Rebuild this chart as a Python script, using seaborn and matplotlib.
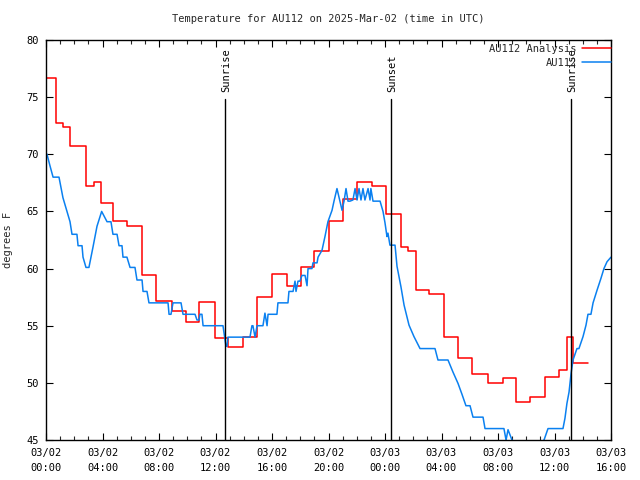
import matplotlib
matplotlib.use("Agg")
import matplotlib.pyplot as plt
import seaborn as sns
import pandas as pd
from matplotlib.ticker import MultipleLocator

# ---- data (hours since 03/02 00:00 UTC, degrees F) ----
analysis_hours = [0.0, 0.7, 1.18, 1.7, 2.83, 3.4, 3.9, 4.74, 5.73, 6.8, 7.8, 8.9, 9.9,
                  10.83, 11.96, 12.9, 13.95, 14.94, 16.0, 17.06, 18.05, 18.97, 20.04,
                  21.03, 22.0, 23.08, 24.07, 25.13, 25.6, 26.2, 27.1, 28.2, 29.2, 30.16,
                  31.3, 32.35, 33.3, 34.3, 35.3, 36.3, 36.9, 37.3, 38.37]
analysis_temp = [76.7, 72.7, 72.4, 70.7, 67.2, 67.55, 65.7, 64.2, 63.7, 59.4, 57.2, 56.3, 55.3,
                 57.05, 53.9, 53.1, 54.0, 57.5, 59.5, 58.45, 60.1, 61.5, 64.2,
                 66.1, 67.55, 67.25, 64.8, 61.9, 61.5, 58.1, 57.8, 54.0, 52.15, 50.8,
                 49.95, 50.4, 48.3, 48.75, 50.5, 51.1, 54.0, 51.7, 51.7]

obs_hours = [0.0, 0.07, 0.28, 0.5, 0.92, 1.2, 1.49, 1.7, 1.84, 2.19, 2.27, 2.55, 2.62, 2.83,
             3.04, 3.33, 3.61, 3.94, 4.32, 4.6, 4.74, 5.03, 5.17, 5.38, 5.45, 5.73, 5.95,
             6.3, 6.44, 6.8, 6.87, 7.15, 7.29, 8.64, 8.71, 8.85, 8.99, 9.56, 9.7, 10.55,
             10.69, 10.83, 10.9, 11.04, 11.12, 12.53, 12.74, 12.81, 12.88, 14.44, 14.58,
             14.65, 14.8, 14.94, 15.36, 15.5, 15.65, 15.72, 16.35, 16.42, 17.13, 17.2,
             17.49, 17.63, 17.7, 17.84, 17.98, 18.12, 18.34, 18.48, 18.55, 18.83, 18.9,
             19.19, 19.26, 19.54, 19.75, 19.96, 20.25, 20.39, 20.6, 20.81, 20.96, 21.1,
             21.24, 21.38, 21.52, 21.73, 21.88, 22.02, 22.16, 22.3, 22.44, 22.58, 22.8,
             22.94, 23.0, 23.15, 23.65, 23.86, 24.0, 24.14, 24.21, 24.35, 24.71, 24.85,
             25.13, 25.35, 25.7, 26.05, 26.48, 27.54, 27.75, 28.46, 28.81, 29.17, 29.45,
             29.73, 30.02, 30.23, 30.94, 31.08, 32.42, 32.57, 32.71, 32.99, 33.13, 34.3,
             35.26, 35.54, 36.6, 36.74, 36.88, 37.03, 37.17, 37.31, 37.59, 37.73, 38.02,
             38.23, 38.37, 38.58, 38.73, 39.01, 39.29, 39.5, 39.72, 40.0]
obs_temp = [70.1, 70.0, 69.0, 68.0, 68.0, 66.2, 65.0, 64.1, 63.0, 63.0, 62.0, 62.0, 61.0, 60.1,
            60.1, 61.9, 63.7, 65.0, 64.1, 64.1, 63.0, 63.0, 62.0, 62.0, 61.0, 61.0, 60.1,
            60.1, 59.0, 59.0, 58.0, 58.0, 57.0, 57.0, 56.0, 56.0, 57.0, 57.0, 56.0, 56.0,
            55.5, 55.5, 56.0, 56.0, 55.0, 55.0, 53.2, 53.2, 54.0, 54.0, 55.0,
            55.0, 54.0, 55.0, 55.0, 56.1, 55.0, 56.0, 56.0, 57.0, 57.0, 58.0,
            58.0, 58.9, 58.0, 58.9, 58.9, 59.4, 59.4, 58.5, 60.0, 60.0, 60.5,
            60.5, 61.0, 61.6, 62.8, 64.1, 65.1, 65.9, 67.0, 65.9, 65.1, 65.9,
            67.0, 65.9, 65.9, 66.0, 67.0, 66.0, 67.0, 66.0, 67.0, 66.0, 67.0,
            66.0, 67.0, 65.9, 65.9, 65.0, 64.0, 62.8, 63.1, 62.05, 62.05, 60.2,
            58.4, 56.8, 55.05, 54.05, 53.0, 53.0, 52.0, 52.0, 50.95, 49.95, 49.0,
            48.0, 48.0, 47.0, 47.0, 46.0, 46.0, 45.0, 45.9, 45.0, 44.5, 44.0,
            45.0, 46.0, 46.0, 46.9, 48.2, 49.2, 50.8, 52.0, 53.0, 53.0, 54.05,
            55.05, 56.0, 56.0, 57.0, 58.1, 59.15, 60.0, 60.6, 61.0]

events = ["Sunrise", "Sunset", "Sunrise"]
event_hours = [12.67, 24.4, 37.15]

tick_hours = [0, 4, 8, 12, 16, 20, 24, 28, 32, 36, 40]
tick_labels = ["03/02\n00:00", "03/02\n04:00", "03/02\n08:00", "03/02\n12:00",
               "03/02\n16:00", "03/02\n20:00", "03/03\n00:00", "03/03\n04:00",
               "03/03\n08:00", "03/03\n12:00", "03/03\n16:00"]

sns.set_style("ticks")
plt.rcParams['font.family'] = ['DejaVu Sans Mono', 'DejaVu Sans']
plt.rcParams['font.size'] = 7

fig = plt.figure(figsize=(6.4, 4.8), dpi=100)
ax = fig.add_axes([46 / 640, 40 / 480, 565 / 640, 400 / 480])

df_a = pd.DataFrame({"hour": analysis_hours, "temp": analysis_temp})
df_o = pd.DataFrame({"hour": obs_hours, "temp": obs_temp})

sns.lineplot(data=df_a, x="hour", y="temp", ax=ax, color="#ff0000", lw=1.1,
             drawstyle="steps-post", label="AU112 Analysis", estimator=None, sort=False)
sns.lineplot(data=df_o, x="hour", y="temp", ax=ax, color="#0a80f0", lw=1.1,
             label="AU112", estimator=None, sort=False)

for name, h in zip(events, event_hours):
    ax.plot([h, h], [45, 74.8], color="black", lw=1.0)
    ax.text(h + 0.1, 75.45, name, rotation=90, ha="center", va="bottom",
            fontsize=7.5, color="black")

ax.set_xlim(0, 40)
ax.set_ylim(45, 80)
ax.set_xticks(tick_hours)
ax.set_xticklabels(tick_labels, linespacing=1.55)
ax.xaxis.set_minor_locator(MultipleLocator(1))
ax.set_yticks(range(45, 81, 5))
ax.tick_params(axis="both", which="major", direction="in", length=5, width=0.8,
               top=True, right=True, labelsize=7.5, colors="black")
ax.tick_params(axis="x", which="major", pad=6)
ax.tick_params(axis="y", which="major", pad=5)
ax.tick_params(axis="x", which="minor", direction="in", length=3, width=0.8, top=True)
for s in ax.spines.values():
    s.set_visible(True)
    s.set_color("black")
    s.set_linewidth(1.0)

ax.set_xlabel("")
ax.set_ylabel("degrees F", fontsize=7.5)
ax.yaxis.set_label_coords(-0.058, 0.5)

leg = ax.legend(loc="upper right", bbox_to_anchor=(1.0, 0.99), frameon=False,
                markerfirst=False, handlelength=2.8, handletextpad=0.5,
                labelspacing=0.35, borderpad=0, borderaxespad=0, fontsize=7.5)

fig.text(328.5 / 640, 1 - 19 / 480, "Temperature for AU112 on 2025-Mar-02 (time in UTC)",
         ha="center", va="center", fontsize=7.5)

fig.savefig("out.png", dpi=100)
